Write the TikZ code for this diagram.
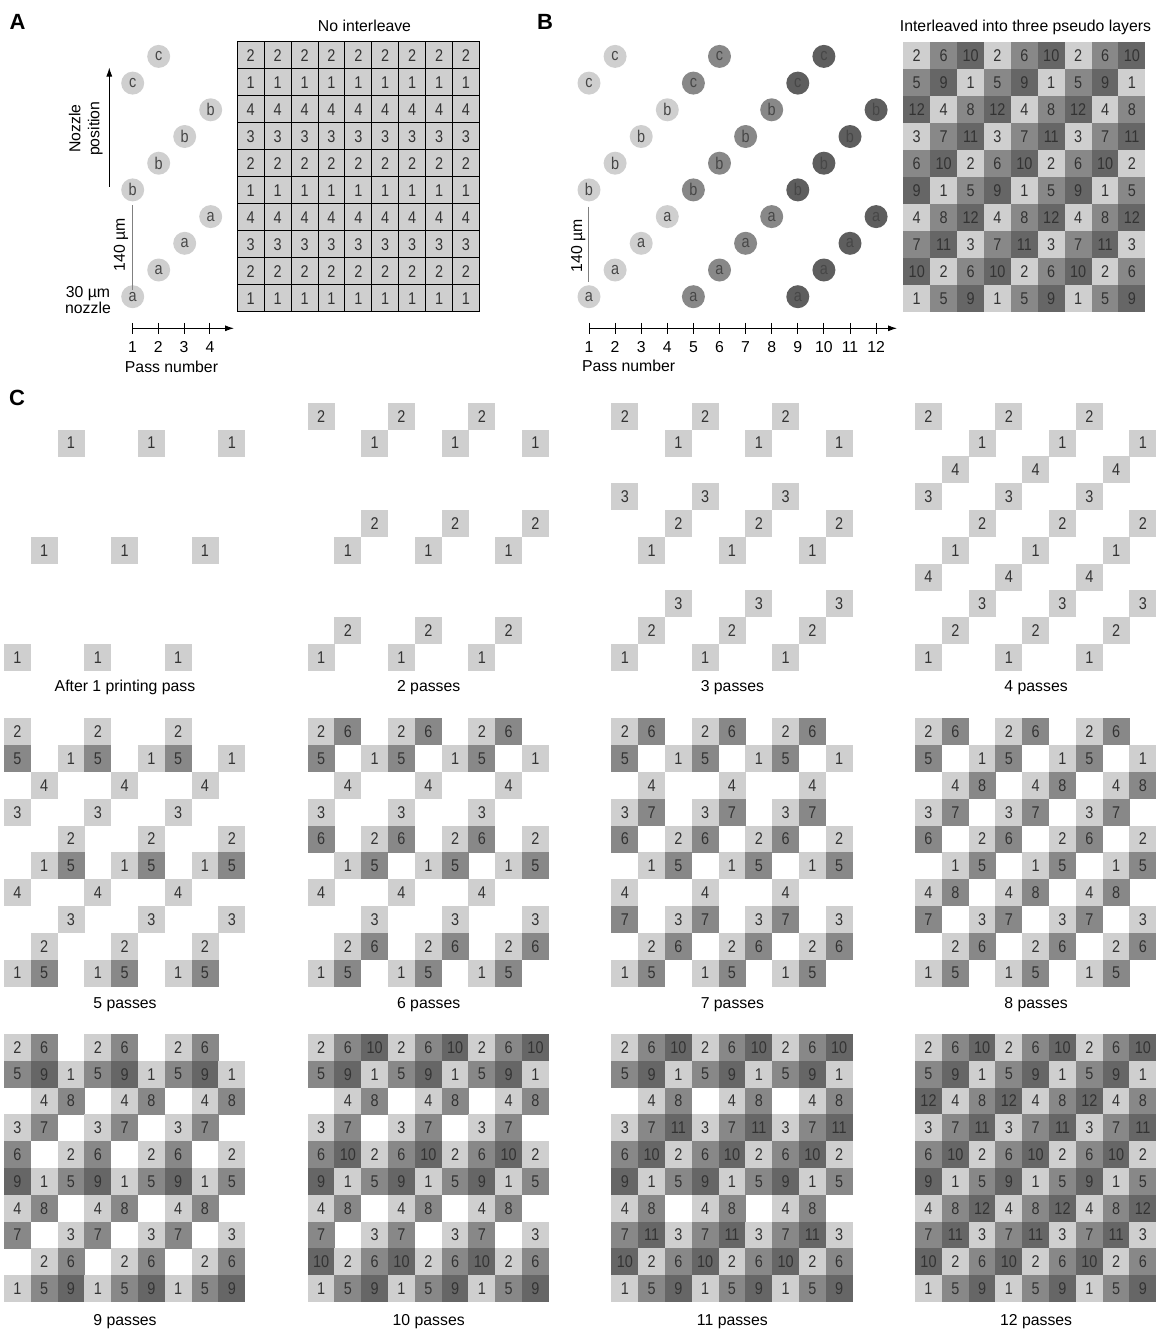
\documentclass[tikz,border=0pt]{standalone}
\usepackage{fontspec}
\setmainfont{Liberation Sans}
\newfontfamily\narrowfont[FakeStretch=0.85]{Liberation Sans}
\usetikzlibrary{arrows.meta}
\definecolor{lightc}{HTML}{CFCFCF}
\definecolor{midc}{HTML}{888888}
\definecolor{darkc}{HTML}{666666}
\colorlet{shade0}{lightc}
\colorlet{shade1}{midc}
\colorlet{shade2}{darkc}
\colorlet{dotshade0}{lightc}
\colorlet{dotshade1}{midc}
\definecolor{dotshade2}{HTML}{5E5E5E}
\begin{document}
\begin{tikzpicture}[x=1pt,y=-1pt,
    cell/.style={minimum width=27pt,minimum height=27pt,inner sep=0pt,text=black!80,font=\narrowfont\fontsize{17}{17}\selectfont},
    dot/.style={circle,minimum size=23pt,inner sep=0pt,text=black!72,font=\narrowfont\fontsize{17}{17}\selectfont},
    lbl/.style={font=\fontsize{15.8}{18}\selectfont,anchor=base},
    tag/.style={font=\fontsize{22}{22}\selectfont\bfseries,anchor=base},
    tip/.style={-{Latex[length=9pt,width=6pt]}}]
  \useasboundingbox (0,0) rectangle (1156,1331);

  % Panel tags and titles
  \node[tag] (tagA) at (17.5,29) {A};
  \node[tag] (tagB) at (545,29) {B};
  \node[tag] (tagC) at (17,405) {C};
  \node[lbl] (titleA) at (364.5,31.5) {No interleave};
  \node[lbl] (titleB) at (1025.5,31.5) {Interleaved into three pseudo layers};

  % Grid A: no interleave
  \foreach \r in {0,...,9} \foreach \c in {0,...,8} {
    \pgfmathtruncatemacro\v{mod(9-\r,4)+1}
    \node[cell,draw=black,line width=0.8pt,fill=lightc] (A-\r-\c) at ({237.3+26.9*(\c+0.5)},{41.7+27*(\r+0.5)}) {\v};
  }

  % Grid B: three pseudo layers
  \foreach \r in {0,...,9} \foreach \c in {0,...,8} {
    \pgfmathtruncatemacro\q{mod(9-\r,4)}
    \pgfmathtruncatemacro\g{mod(\c-\q-div(9-\r,4)+9,3)}
    \pgfmathtruncatemacro\v{4*\g+\q+1}
    \node[cell,fill=shade\g] (B-\r-\c) at ({903.3+26.9*(\c+0.5)},{42.3+27*(\r+0.5)}) {\v};
  }

  % Nozzles, panel A
  \foreach \p in {1,...,4} \foreach \k/\ltr in {0/a,1/b,2/c} {
    \pgfmathtruncatemacro\rr{\p-1+4*\k}
    \ifnum\rr<10 \node[dot,fill=lightc] (na\p\ltr) at ({132.7+26*(\p-1)},{296.7-26.7*\rr}) {\ltr};\fi
  }

  % Nozzles, panel B
  \foreach \p in {1,...,12} \foreach \k/\ltr in {0/a,1/b,2/c} {
    \pgfmathtruncatemacro\rr{mod(\p-1,4)+4*\k}
    \pgfmathtruncatemacro\g{div(\p-1,4)}
    \ifnum\rr<10 \node[dot,fill=dotshade\g] (nb\p\ltr) at ({589+26.1*(\p-1)},{296.7-26.7*\rr}) {\ltr};\fi
  }

  % Pass axes
  \coordinate (axA0) at (132.5,328.3);
  \coordinate (axA1) at (234,328.3);
  \draw[tip,line width=0.9pt] (axA0) -- (axA1);
  \foreach \p in {1,...,4} {
    \coordinate (tkA\p) at ({132.5+25.8*(\p-1)},328.3);
    \draw[line width=0.9pt] (tkA\p) ++(0,-5.5) -- ++(0,11);
    \node[lbl] (nA\p) at ({132.5+25.8*(\p-1)},352.7) {\p};
  }
  \node[lbl] (passA) at (171.5,372.7) {Pass number};

  \coordinate (axB0) at (589,328.3);
  \coordinate (axB1) at (897,328.3);
  \draw[tip,line width=0.9pt] (axB0) -- (axB1);
  \foreach \p in {1,...,12} {
    \coordinate (tkB\p) at ({589+26.1*(\p-1)},328.3);
    \draw[line width=0.9pt] (tkB\p) ++(0,-5.5) -- ++(0,11);
    \node[lbl] (nB\p) at ({589+26.1*(\p-1)},352.7) {\p};
  }
  \node[lbl] (passB) at (628.7,371) {Pass number};

  % Nozzle position and scale bars
  \coordinate (nzA0) at (109.3,186.7);
  \coordinate (nzA1) at (109.3,67.5);
  \draw[tip,line width=0.9pt] (nzA0) -- (nzA1);
  \node[font=\fontsize{15.8}{19}\selectfont,align=center,rotate=90] (nzl) at (85.8,128.7) {Nozzle\\position};

  \coordinate (sbA0) at (132.7,205);
  \coordinate (sbA1) at (132.7,290);
  \draw[black!50,line width=1.3pt] (sbA0) -- (sbA1);
  \node[rotate=90,font=\fontsize{15.8}{18}\selectfont] (sbAl) at (121,245) {140 µm};
  \node[font=\fontsize{15.8}{15.6}\selectfont,align=center] (nozA) at (88,300) {30 µm\\nozzle};

  \coordinate (sbB0) at (588.7,206.7);
  \coordinate (sbB1) at (588.7,281.7);
  \draw[black!50,line width=1.3pt] (sbB0) -- (sbB1);
  \node[rotate=90,font=\fontsize{15.8}{18}\selectfont] (sbBl) at (578.3,245.8) {140 µm};

  % Panel C: pattern after each pass
  \foreach \n in {1,...,12} {
    \pgfmathtruncatemacro\pcol{mod(\n-1,4)}
    \pgfmathtruncatemacro\prow{div(\n-1,4)}
    \pgfmathsetmacro\gx{4+303.7*\pcol}
    \pgfmathsetmacro\gy{402.8+315.6*\prow}
    \foreach \r in {0,...,9} \foreach \c in {0,...,8} {
      \pgfmathtruncatemacro\q{mod(9-\r,4)}
      \pgfmathtruncatemacro\g{mod(\c-\q-div(9-\r,4)+9,3)}
      \pgfmathtruncatemacro\v{4*\g+\q+1}
      \ifnum\v>\n\relax\else
        \node[cell,fill=shade\g] (C\n-\r-\c) at ({\gx+26.8*(\c+0.5)},{\gy+26.8*(\r+0.5)}) {\v};
      \fi
    }
    \pgfmathsetmacro\capy{691.7+317*\prow}
    \node[lbl] (cap\n) at ({\gx+121},\capy) {\ifnum\n=1 After 1 printing pass\else\n\ passes\fi};
  }
\end{tikzpicture}
\end{document}
